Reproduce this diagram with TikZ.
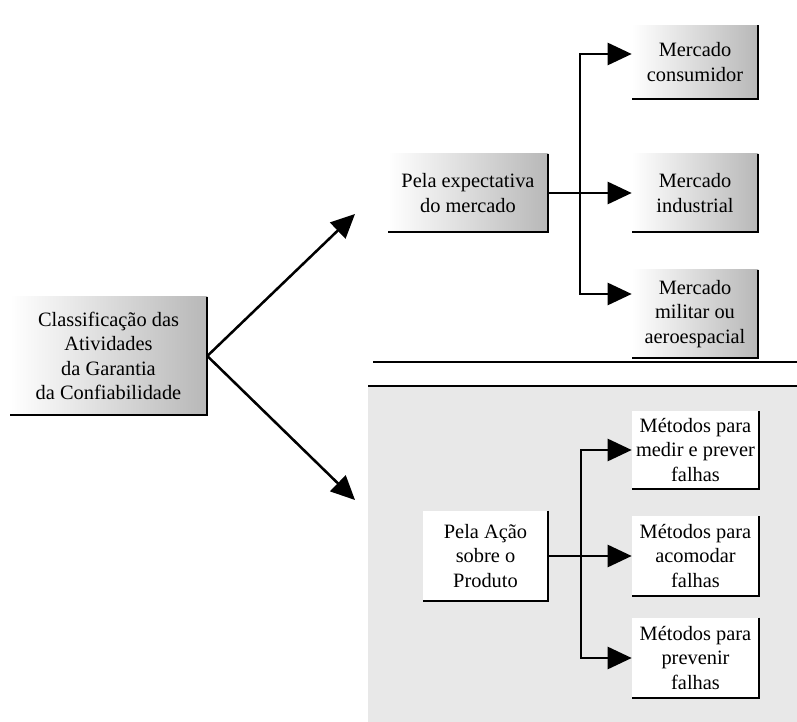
\documentclass[tikz,border=0pt]{standalone}
\usepackage{fontspec}
\setmainfont{Liberation Serif}
\usetikzlibrary{arrows.meta}
\tikzset{
shaded box/.style = { rectangle, draw = none, left color = white, right color = black!28, align = center, inner sep = 0pt },
white box/.style = { rectangle, draw = none, fill = white, align = center, inner sep = 0pt },
rim/.style = { line width = 1.6pt },
link/.style = { line width = 1.8pt, -{Triangle[length = 6mm, width = 5.5mm]} },
}
\begin{document}
\begin{tikzpicture}[x = 0.025cm, y = -0.025cm, font = \fontsize{14.5}{17.5}\selectfont]
    \useasboundingbox (0, 0) rectangle (797, 722);
    % lower panel and separator
    \fill[black!9] (368, 386) rectangle (797, 722);
    \draw[line width = 1pt] (368, 386) -- (797, 386);
    \draw[rim] (373, 362) -- (797, 362);
    % boxes
    \node[shaded box, minimum width = 4.925cm, minimum height = 2.95cm] (root) at (108.5, 356) {Classificação das\\Atividades\\da Garantia\\da Confiabilidade};
    \node[shaded box, minimum width = 4cm, minimum height = 1.95cm] (expect) at (468, 193) {Pela expectativa\\do mercado};
    \node[shaded box, minimum width = 3.15cm, minimum height = 1.825cm] (cons) at (695, 62) {Mercado\\consumidor};
    \node[shaded box, minimum width = 3.15cm, minimum height = 1.95cm] (indus) at (695, 193) {Mercado\\industrial};
    \node[shaded box, minimum width = 3.15cm, minimum height = 2.2cm] (milit) at (695, 314) {Mercado\\militar ou\\aeroespacial};
    \node[white box, minimum width = 3.125cm, minimum height = 2.25cm] (acao) at (485.5, 556) {Pela Ação\\sobre o\\Produto};
    \node[white box, minimum width = 3.175cm, minimum height = 1.925cm] (met1) at (695.5, 450) {Métodos para\\medir e prever\\falhas};
    \node[white box, minimum width = 3.175cm, minimum height = 1.975cm] (met2) at (695.5, 556) {Métodos para\\acomodar\\falhas};
    \node[white box, minimum width = 3.175cm, minimum height = 2cm] (met3) at (695.5, 658) {Métodos para\\prevenir\\falhas};
    \foreach \n in {root, expect, cons, indus, milit, acao, met1, met2, met3}
        \draw[rim] (\n.north east) -- (\n.south east) -- (\n.south west);
    % connectors
    \coordinate (tip up) at (355, 214);
    \coordinate (tip low) at (355, 500);
    \coordinate (split up) at (580, 193);
    \coordinate (split low) at (581, 556);
    \draw[link] (root.east) -- (tip up);
    \draw[link] (root.east) -- (tip low);
    \draw[link] (expect.east) -- (indus.west);
    \draw[link] (split up) |- ([yshift = 0.2cm] cons.west);
    \draw[link] (split up) |- ([yshift = 0.5cm] milit.west);
    \draw[link] (acao.east) -- (met2.west);
    \draw[link] (split low) |- (met1.west);
    \draw[link] (split low) |- (met3.west);
\end{tikzpicture}
\end{document}
